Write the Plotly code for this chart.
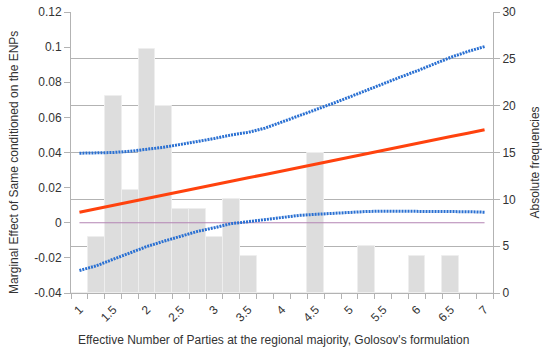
import plotly.graph_objects as go

# Effective number of parties (category centres)
enp = [1.0, 1.25, 1.5, 1.75, 2.0, 2.25, 2.5, 2.75, 3.0, 3.25, 3.5, 3.75, 4.0,
       4.25, 4.5, 4.75, 5.0, 5.25, 5.5, 5.75, 6.0, 6.25, 6.5, 6.75, 7.0]

# Absolute frequencies (histogram, right axis)
frequencies = [0, 6, 21, 11, 26, 20, 9, 9, 6, 10, 4, 0, 0,
               0, 15, 0, 0, 5, 0, 0, 4, 0, 4, 0, 0]

# Marginal effect of Same (left axis)
marginal_effect = [0.0060, 0.0080, 0.0100, 0.0119, 0.0138, 0.0158, 0.0178, 0.0197,
                   0.0217, 0.0236, 0.0256, 0.0275, 0.0295, 0.0315, 0.0334, 0.0354,
                   0.0373, 0.0393, 0.0413, 0.0432, 0.0452, 0.0471, 0.0491, 0.0510, 0.0530]

ci_upper = [0.0396, 0.0396, 0.0400, 0.0407, 0.0418, 0.0430, 0.0446, 0.0462, 0.0480,
            0.0500, 0.0515, 0.0539, 0.0573, 0.0608, 0.0643, 0.0679, 0.0716, 0.0755,
            0.0794, 0.0829, 0.0865, 0.0904, 0.0942, 0.0975, 0.1003]

ci_lower = [-0.0272, -0.0245, -0.0208, -0.0170, -0.0135, -0.0105, -0.0076, -0.0049,
            -0.0028, -0.0005, 0.0006, 0.0018, 0.0030, 0.0042, 0.0048, 0.0054, 0.0060,
            0.0064, 0.0066, 0.0066, 0.0066, 0.0066, 0.0066, 0.0063, 0.0060]

zero_line = [0.0] * len(enp)

x_tick_vals = [1, 1.5, 2, 2.5, 3, 3.5, 4, 4.5, 5, 5.5, 6, 6.5, 7]
x_tick_text = ["1", "1.5", "2", "2.5", "3", "3.5", "4", "4.5", "5", "5.5", "6", "6.5", "7"]
left_tick_vals = [-0.04, -0.02, 0, 0.02, 0.04, 0.06, 0.08, 0.1, 0.12]
left_tick_text = ["-0.04", "-0.02", "0", "0.02", "0.04", "0.06", "0.08", "0.1", "0.12"]
right_tick_vals = [0, 5, 10, 15, 20, 25, 30]

FONT = "Liberation Sans, Arial, sans-serif"
TXT = "#333333"
GRID = "#b3b3b3"

fig = go.Figure()

fig.add_trace(go.Bar(
    x=enp, y=frequencies, width=0.25, yaxis="y",
    marker=dict(color="#dddddd", line=dict(color="#eeeeee", width=1)),
    showlegend=False,
))

fig.add_trace(go.Scatter(x=enp, y=zero_line, yaxis="y2", mode="lines",
                         line=dict(color="#b384b3", width=1), showlegend=False))
fig.add_trace(go.Scatter(x=enp, y=ci_upper, yaxis="y2", mode="lines",
                         line=dict(color="#2a70d2", width=3, dash="2px,1px"), showlegend=False))
fig.add_trace(go.Scatter(x=enp, y=ci_lower, yaxis="y2", mode="lines",
                         line=dict(color="#2a70d2", width=3, dash="2px,1px"), showlegend=False))
fig.add_trace(go.Scatter(x=enp, y=marginal_effect, yaxis="y2", mode="lines",
                         line=dict(color="#ff420e", width=3), showlegend=False))

fig.update_layout(
    width=542, height=347,
    margin=dict(l=71, r=49, t=12, b=54),
    paper_bgcolor="white", plot_bgcolor="white",
    font=dict(family=FONT, size=12, color=TXT),
    bargap=0,
    xaxis=dict(
        range=[0.875, 7.125], tickmode="array", tickvals=x_tick_vals, ticktext=x_tick_text,
        tickangle=-45, ticks="", showgrid=False, zeroline=False, automargin=False,
        showline=True, linecolor=GRID, linewidth=1, ticklabelstandoff=4,
        minor=dict(ticks="outside", tick0=0.875, dtick=0.25, ticklen=5,
                   tickcolor=GRID, showgrid=False),
        tickfont=dict(size=12),
    ),
    yaxis=dict(
        side="right", range=[0, 30], tickmode="array", tickvals=right_tick_vals,
        showgrid=True, gridcolor=GRID, gridwidth=1, zeroline=False, automargin=False,
        showline=True, linecolor=GRID, ticks="outside", ticklen=6, tickcolor=GRID,
        tickfont=dict(size=12),
    ),
    yaxis2=dict(
        side="left", overlaying="y", range=[-0.04, 0.12], tickmode="array",
        tickvals=left_tick_vals, ticktext=left_tick_text, automargin=False,
        showgrid=False, zeroline=False, showline=True, linecolor=GRID,
        ticks="outside", ticklen=6, tickcolor=GRID, tickfont=dict(size=12),
    ),
    annotations=[
        dict(text="Marginal Effect of Same conditioned on the ENPs", xref="paper", yref="paper",
             x=-0.135, y=0.463, xanchor="center", yanchor="middle", textangle=-90,
             showarrow=False, font=dict(size=12, color=TXT)),
        dict(text="Absolute frequencies", xref="paper", yref="paper",
             x=1.0985, y=0.463, xanchor="center", yanchor="middle", textangle=-90,
             showarrow=False, font=dict(size=12, color=TXT)),
        dict(text="Effective Number of Parties at the regional majority, Golosov's formulation",
             xref="paper", yref="paper", x=0.48, y=-0.167, xanchor="center", yanchor="middle",
             showarrow=False, font=dict(size=12, color=TXT)),
    ],
)

fig.write_html("out.html", config={"displayModeBar": False},
               post_script="document.body.style.margin='0';")
